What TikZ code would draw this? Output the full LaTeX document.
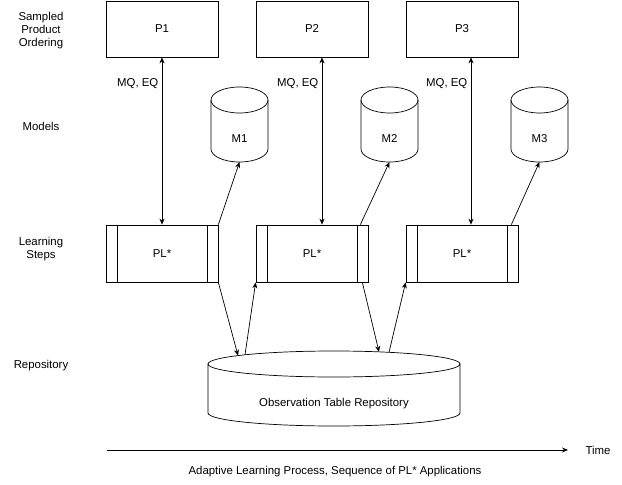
\documentclass[tikz,border=0pt]{standalone}
\usepackage{fontspec}
\setmainfont{Liberation Sans}
\usetikzlibrary{positioning,shapes,arrows.meta}

\begin{document}
\begin{tikzpicture}[x=1pt,y=-1pt,line width=0.7pt]%[scale=1]
\useasboundingbox (0,0) rectangle (622,485);
\tikzstyle{every node}=[font=\fontsize{11.4}{13}\selectfont, align=center];
\tikzstyle{pbox}=[draw, minimum width=112pt, minimum height=56pt];
\tikzstyle{plbox}=[draw, minimum width=112pt, minimum height=57pt, path picture={
  \draw ([xshift=11pt]path picture bounding box.north west) -- ([xshift=11pt]path picture bounding box.south west)
  ([xshift=-11pt]path picture bounding box.north east) -- ([xshift=-11pt]path picture bounding box.south east);}];
\tikzstyle{db}=[inner sep=0pt, outer sep=0pt, minimum width=57pt, text height=55pt, text depth=20pt];
\tikzstyle{link}=[-{Stealth[length=6pt,width=5pt]}];
\tikzstyle{both}=[{Stealth[length=6pt,width=5pt]}-{Stealth[length=6pt,width=5pt]}];

% row labels
\node (r1) at (41,31) {Sampled\\Product\\Ordering};
\node (r2) at (41,126) {Models};
\node (r3) at (41,249) {Learning\\Steps};
\node (r4) at (41,366) {Repository};

\foreach \i/\x in {1/162,2/312,3/462}{
  \node[pbox] (p\i) at (\x,29) {P\i};
  \node[plbox] (pl\i) at (\x,253.5) {PL*};
  \node[db] (m\i) at (\x+77.5,124.5) {M\i};
}
\node[db, minimum width=252pt] (repo) at (334,388.5) {Observation Table Repository};

% cylinder outlines
\foreach \n/\r in {m1/28.5,m2/28.5,m3/28.5,repo/126}{
  \draw ([yshift=-13pt]\n.north) ellipse [x radius=\r pt, y radius=13pt];
  \draw ([yshift=-13pt]\n.north west) -- ([yshift=13pt]\n.south west)
    arc [start angle=180, end angle=360, x radius=\r pt, y radius=13pt] -- ([yshift=-13pt]\n.north east);
}

\draw[both] (p1.south) -- node[pos=0.155,left] {MQ, EQ} (pl1.north);
\draw[both] ([xshift=10pt]p2.south) -- node[pos=0.155,left] {MQ, EQ} ([xshift=10pt]pl2.north);
\draw[both] ([xshift=9pt]p3.south) -- node[pos=0.155,left] {MQ, EQ} ([xshift=9pt]pl3.north);

\draw[link] (pl1.north east) -- (m1.south);
\draw[link] ([xshift=-8pt]pl2.north east) -- (m2.south);
\draw[link] ([xshift=-7pt]pl3.north east) -- (m3.south);

\draw[link] (pl1.south east) -- ([shift={(-96pt,-4.6pt)}]repo.north);
\draw[link] ([shift={(-89pt,-3.8pt)}]repo.north) -- (pl2.south west);
\draw[link] ([xshift=-6pt]pl2.south east) -- ([shift={(45pt,-0.9pt)}]repo.north);
\draw[link] ([shift={(55pt,-1.3pt)}]repo.north) -- (pl3.south west);

\coordinate (t0) at (107,450);
\coordinate (t1) at (568,450);
\node (time) at (598,450) {Time};
\draw[link] (t0) -- (t1);
\node (caption) at (335,472) {Adaptive Learning Process, Sequence of PL* Applications};
\end{tikzpicture}
\end{document}
